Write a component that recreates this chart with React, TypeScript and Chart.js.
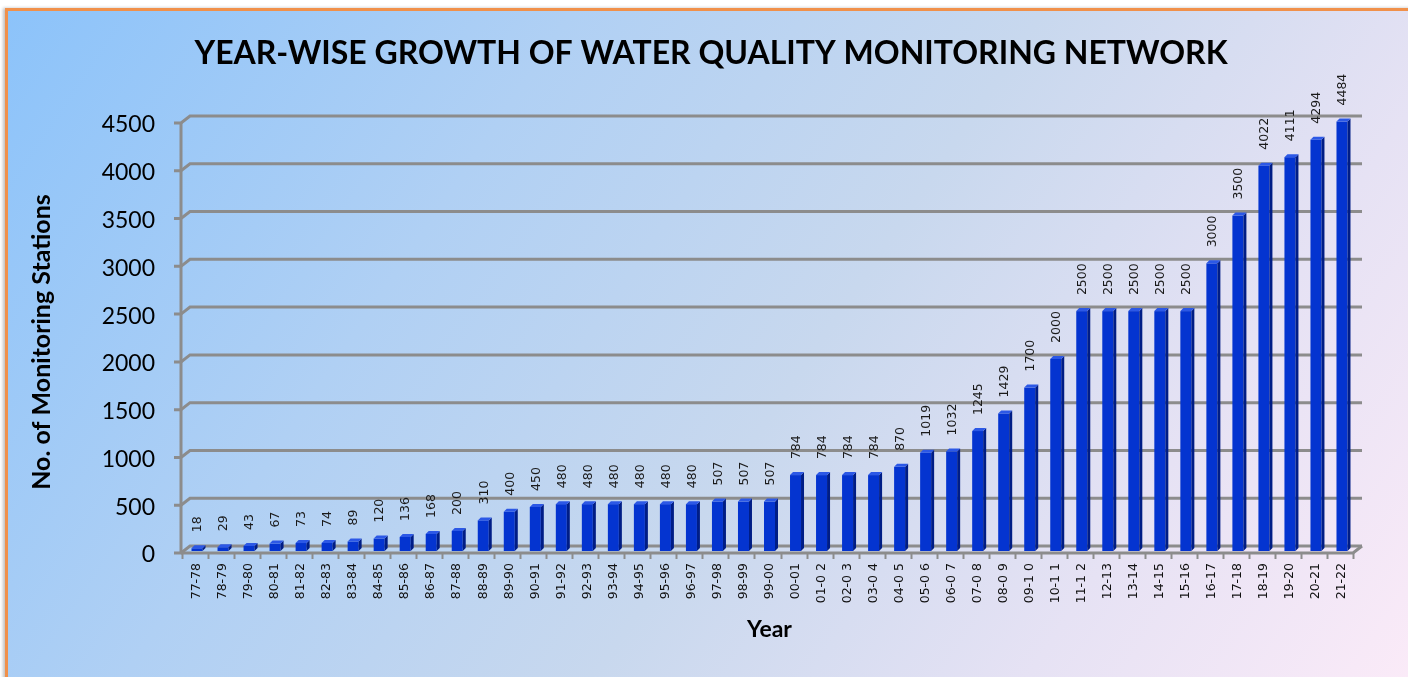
import React, { useEffect, useRef } from "react";
import { Chart, registerables } from "chart.js";

Chart.register(...registerables);

const years = [
  "77-78", "78-79", "79-80", "80-81", "81-82", "82-83", "83-84", "84-85", "85-86", "86-87",
  "87-88", "88-89", "89-90", "90-91", "91-92", "92-93", "93-94", "94-95", "95-96", "96-97",
  "97-98", "98-99", "99-00", "00-01", "01-0 2", "02-0 3", "03-0 4", "04-0 5", "05-0 6", "06-0 7",
  "07-0 8", "08-0 9", "09-1 0", "10-1 1", "11-1 2", "12-13", "13-14", "14-15", "15-16", "16-17",
  "17-18", "18-19", "19-20", "20-21", "21-22",
];

const stations = [
  18, 29, 43, 67, 73, 74, 89, 120, 136, 168,
  200, 310, 400, 450, 480, 480, 480, 480, 480, 480,
  507, 507, 507, 784, 784, 784, 784, 870, 1019, 1032,
  1245, 1429, 1700, 2000, 2500, 2500, 2500, 2500, 2500, 3000,
  3500, 4022, 4111, 4294, 4484,
];

const yMin = 0;
const yMax = 4500;
const yStep = 500;

const TITLE = "YEAR-WISE GROWTH OF WATER QUALITY MONITORING NETWORK";
const Y_TITLE = "No. of Monitoring Stations";
const X_TITLE = "Year";

const FRONT = "#0434d0";
const SIDE = "#001d86";
const TOP = "#2c58e6";
const GRID = "#8c8c8c";

export default function App() {
  const ref = useRef<HTMLCanvasElement>(null);

  useEffect(() => {
    const canvas = ref.current;
    if (!canvas) return;

    const frame3d = {
      id: "frame3d",
      beforeDatasetsDraw(chart: any) {
        const { ctx, chartArea } = chart;
        const { left, right } = chartArea;
        const y = chart.scales.y;
        const n = years.length;
        const slot = (right - left) / n;
        const dx = 9;
        const dy = 7;
        const axisX = left - 3;
        ctx.save();
        ctx.strokeStyle = GRID;
        ctx.lineWidth = 3;
        ctx.lineJoin = "miter";
        y.ticks.forEach((t: any) => {
          const py = y.getPixelForValue(t.value);
          ctx.beginPath();
          ctx.moveTo(axisX - 7, py + dy);
          ctx.lineTo(axisX, py + dy);
          ctx.lineTo(axisX + dx, py);
          ctx.lineTo(right + 7, py);
          ctx.stroke();
        });
        const top = y.getPixelForValue(yMax) + dy;
        const bot = y.getPixelForValue(yMin) + dy;
        ctx.beginPath();
        ctx.moveTo(axisX, top - 1);
        ctx.lineTo(axisX, bot);
        ctx.stroke();
        // floor front edge
        ctx.beginPath();
        ctx.moveTo(axisX, bot);
        ctx.lineTo(right - 2, bot);
        ctx.lineTo(right + 7, bot - dy);
        ctx.stroke();
        // x tick marks
        ctx.lineWidth = 2;
        for (let i = 0; i <= n; i++) {
          const px = Math.round(left - 2 + i * slot) + 0.5;
          ctx.beginPath();
          ctx.moveTo(px, bot);
          ctx.lineTo(px, bot + 6);
          ctx.stroke();
        }
        ctx.restore();
      },
      afterDatasetsDraw(chart: any) {
        const { ctx } = chart;
        const meta = chart.getDatasetMeta(0);
        const d = 3;
        const shift = 4;
        ctx.save();
        meta.data.forEach((bar: any, i: number) => {
          const p = bar.getProps(["x", "y", "width", "base"], true);
          const l = p.x - p.width / 2;
          const r = p.x + p.width / 2;
          const b = p.base + 5;
          const ty = p.y + shift;
          ctx.fillStyle = FRONT;
          ctx.fillRect(l, ty, p.width, b - ty);
          ctx.fillStyle = SIDE;
          ctx.beginPath();
          ctx.moveTo(r, ty);
          ctx.lineTo(r + d, ty - d);
          ctx.lineTo(r + d, b - d);
          ctx.lineTo(r, b);
          ctx.closePath();
          ctx.fill();
          ctx.fillStyle = TOP;
          ctx.beginPath();
          ctx.moveTo(l, ty);
          ctx.lineTo(l + d, ty - d);
          ctx.lineTo(r + d, ty - d);
          ctx.lineTo(r, ty);
          ctx.closePath();
          ctx.fill();
          // value label
          ctx.save();
          ctx.translate(p.x + 1, p.y - 12);
          ctx.rotate(-Math.PI / 2);
          ctx.fillStyle = "#1a1a1a";
          ctx.font = '12.5px "DejaVu Sans"';
          ctx.textAlign = "left";
          ctx.textBaseline = "middle";
          ctx.fillText(String(stations[i]), 0, 0);
          ctx.restore();
        });
        ctx.restore();
      },
      afterDraw(chart: any) {
        const { ctx } = chart;
        ctx.save();
        ctx.fillStyle = "#000";
        ctx.font = "bold 32px Lato";
        ctx.textAlign = "center";
        ctx.textBaseline = "alphabetic";
        ctx.fillText(TITLE, 711, 64);
        ctx.translate(50, 342);
        ctx.rotate(-Math.PI / 2);
        ctx.font = "bold 25px Lato";
        ctx.fillText(Y_TITLE, 0, 0);
        ctx.restore();
      },
    };

    const chart = new Chart(canvas, {
      type: "bar",
      data: {
        labels: years,
        datasets: [
          {
            data: stations,
            backgroundColor: "rgba(0,0,0,0)",
            barThickness: 11,
          },
        ],
      },
      options: {
        animation: false,
        responsive: false,
        devicePixelRatio: 1,
        layout: { padding: { top: 116, right: 53, left: 0, bottom: 0 } },
        plugins: {
          legend: { display: false },
          tooltip: { enabled: false },
          title: { display: false },
        },
        scales: {
          x: {
            grid: { display: false, drawTicks: false },
            border: { display: false },
            ticks: {
              autoSkip: false,
              minRotation: 90,
              maxRotation: 90,
              padding: 17,
              color: "#111",
              font: { family: '"DejaVu Sans"', size: 12.5 },
            },
            title: {
              display: true,
              text: X_TITLE,
              color: "#000",
              font: { family: "Lato", size: 23, weight: "bold" },
              padding: { top: 0, bottom: 34 },
            },
            afterFit: (s: any) => {
              s.height = 131;
            },
          },
          y: {
            min: yMin,
            max: yMax,
            grid: { display: false, drawTicks: false },
            border: { display: false },
            ticks: {
              stepSize: yStep,
              padding: 29,
              labelOffset: 9,
              color: "#000",
              font: { family: "Lato", size: 23 },
              callback: (v: any) => String(v),
            },
            afterFit: (s: any) => {
              s.width = 184;
            },
          },
        },
      },
      plugins: [frame3d],
    } as any);

    return () => chart.destroy();
  }, []);

  return (
    <div
      style={{
        position: "fixed",
        left: 0,
        top: 0,
        width: 1408,
        height: 677,
        overflow: "hidden",
        background: "#ffffff",
      }}
    >
      <div
        style={{
          position: "absolute",
          left: 5,
          top: 8,
          right: -20,
          bottom: -20,
          borderLeft: "3px solid #f0904a",
          borderTop: "3px solid #f0904a",
          boxShadow: "-2px 0 3px rgba(0,0,0,0.25)",
          background:
            "linear-gradient(124deg, #8cc3fa 0%, #b0d0f4 30%, #c8d8ee 55%, #e6e2f4 78%, #fcebf8 100%)",
        }}
      />
      <canvas
        ref={ref}
        width={1408}
        height={677}
        style={{ position: "absolute", left: 0, top: 0 }}
      />
    </div>
  );
}
